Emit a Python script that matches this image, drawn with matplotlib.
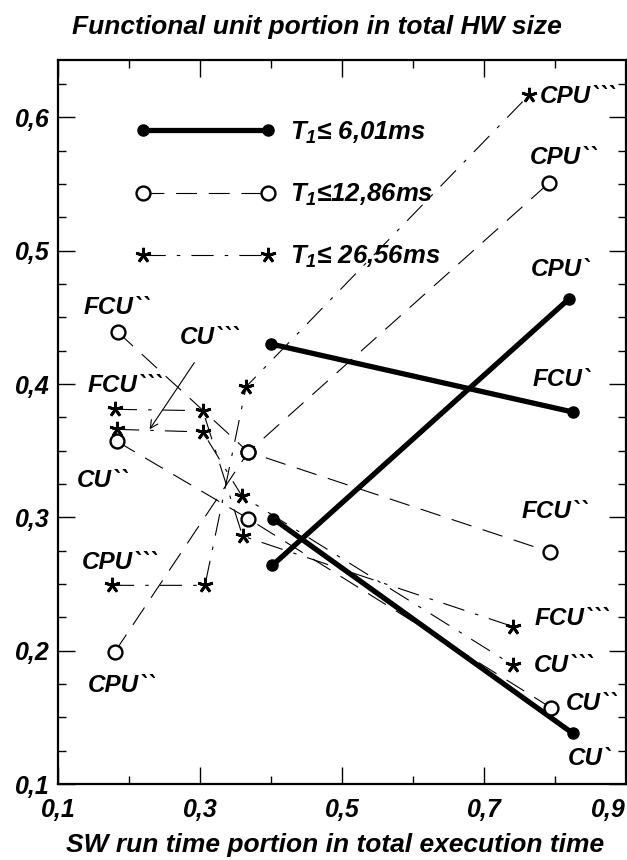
import matplotlib
matplotlib.use("Agg")
import matplotlib.pyplot as plt
from matplotlib.ticker import MultipleLocator, FixedLocator

plt.rcParams['font.family'] = ['Liberation Sans', 'DejaVu Sans']
plt.rcParams['font.weight'] = 'bold'
plt.rcParams['font.style'] = 'italic'
plt.rcParams['mathtext.fontset'] = 'custom'
plt.rcParams['mathtext.it'] = 'Liberation Sans:italic:bold'
plt.rcParams['mathtext.rm'] = 'Liberation Sans:italic:bold'
plt.rcParams['mathtext.bf'] = 'Liberation Sans:italic:bold'
plt.rcParams['lines.scale_dashes'] = False

# ---- data: T1 <= 6.01 ms (solid, filled dots)
fcu1_x = [0.400, 0.825]; fcu1_y = [0.430, 0.379]
cpu1_x = [0.402, 0.820]; cpu1_y = [0.264, 0.464]
cu1_x = [0.403, 0.825];  cu1_y = [0.299, 0.138]
# ---- T1 <= 12.86 ms (dashed, open circles)
fcu2_x = [0.184, 0.368, 0.793]; fcu2_y = [0.439, 0.349, 0.274]
cu2_x = [0.183, 0.368, 0.795];  cu2_y = [0.357, 0.299, 0.157]
cpu2_x = [0.180, 0.368, 0.792]; cpu2_y = [0.199, 0.349, 0.551]
# ---- T1 <= 26.56 ms (dash-dot, asterisks)
fcu3_x = [0.180, 0.304, 0.360, 0.741]; fcu3_y = [0.381, 0.380, 0.286, 0.218]
cu3_x = [0.183, 0.304, 0.359, 0.741];  cu3_y = [0.366, 0.364, 0.316, 0.189]
cpu3_x = [0.176, 0.307, 0.365, 0.764]; cpu3_y = [0.249, 0.249, 0.398, 0.617]

legend_labels = [r"$T_1$≤ 6,01ms", r"$T_1$≤12,86ms", r"$T_1$≤ 26,56ms"]

point_labels = ["FCU``", "CU```", "FCU```", "CU``", "CPU```", "CPU``",
                "CPU```", "CPU``", "CPU`", "FCU`", "FCU``", "FCU```",
                "CU```", "CU``", "CU`"]
label_x = [0.183, 0.314, 0.194, 0.163, 0.187, 0.190,
           0.832, 0.812, 0.807, 0.809, 0.800, 0.824,
           0.812, 0.852, 0.849]
label_y = [0.457, 0.435, 0.399, 0.328, 0.266, 0.174,
           0.616, 0.570, 0.486, 0.403, 0.304, 0.224,
           0.189, 0.160, 0.119]

xticks = [0.1, 0.3, 0.5, 0.7, 0.9]
xtick_labels = ["0,1", "0,3", "0,5", "0,7", "0,9"]
yticks = [0.1, 0.2, 0.3, 0.4, 0.5, 0.6]
ytick_labels = ["0,1", "0,2", "0,3", "0,4", "0,5", "0,6"]

fig = plt.figure(figsize=(6.27, 8.60), dpi=100)
ax = fig.add_axes([58/627, 1-784/860, (626-58)/627, (784-60)/860])

DASH = (0, (15, 8.5))
DASHDOT = (0, (16, 8, 2.5, 8))

for xs, ys in [(fcu1_x, fcu1_y), (cpu1_x, cpu1_y), (cu1_x, cu1_y)]:
    l1, = ax.plot(xs, ys, color='black', lw=3.8, marker='o', ms=8,
                  solid_capstyle='round')
for xs, ys in [(fcu2_x, fcu2_y), (cu2_x, cu2_y), (cpu2_x, cpu2_y)]:
    l2, = ax.plot(xs, ys, color='black', lw=0.8, linestyle=DASH, marker='o',
                  ms=10, mfc='white', mec='black', mew=1.7)
for xs, ys in [(fcu3_x, fcu3_y), (cu3_x, cu3_y), (cpu3_x, cpu3_y)]:
    l3, = ax.plot(xs, ys, color='black', lw=0.8, linestyle=DASHDOT,
                  marker=(5, 2, 0), ms=11, mec='black', mew=2.0)

for t, x, y in zip(point_labels, label_x, label_y):
    ax.text(x, y, t, ha='center', va='center', fontsize=17.5,
            fontweight='bold', fontstyle='italic', clip_on=False)

# arrow from CU``` label
ax.annotate("", xy=(0.229, 0.366), xytext=(0.292, 0.416),
            arrowprops=dict(arrowstyle='->', lw=0.8, color='black',
                            shrinkA=0, shrinkB=0, mutation_scale=14))

leg = ax.legend([l1, l2, l3], legend_labels, loc='upper left',
                bbox_to_anchor=(0.136, 0.918), frameon=False, numpoints=2,
                handlelength=5.46, handletextpad=0.56, labelspacing=1.4,
                fontsize=18.5, borderaxespad=0, borderpad=0)

ax.set_xlim(0.1, 0.9)
ax.set_ylim(0.1, 0.643)
ax.xaxis.set_major_locator(FixedLocator(xticks))
ax.set_xticklabels(xtick_labels)
ax.xaxis.set_minor_locator(FixedLocator([0.2, 0.4, 0.6, 0.8]))
ax.yaxis.set_major_locator(FixedLocator(yticks))
ax.set_yticklabels(ytick_labels)
ax.yaxis.set_minor_locator(MultipleLocator(0.025))
ax.tick_params(which='both', direction='in', top=True, right=True,
               width=1.0, labelsize=18, pad=6)
ax.tick_params(axis='x', which='major', pad=10)
ax.tick_params(which='major', length=12)
ax.tick_params(which='minor', length=6)
for lab in ax.get_xticklabels() + ax.get_yticklabels():
    lab.set_fontweight('bold'); lab.set_fontstyle('italic')
ax.get_xticklabels()[-1].set_horizontalalignment('right')
for s in ax.spines.values():
    s.set_linewidth(1.6)

fig.text(317/627, 1-27/860, "Functional unit portion in total HW size",
         ha='center', va='center', fontsize=19, fontweight='bold',
         fontstyle='italic')
fig.text(335/627, 1-845/860, "SW run time portion in total execution time",
         ha='center', va='center', fontsize=19, fontweight='bold',
         fontstyle='italic')

fig.savefig("out.png", dpi=100)
